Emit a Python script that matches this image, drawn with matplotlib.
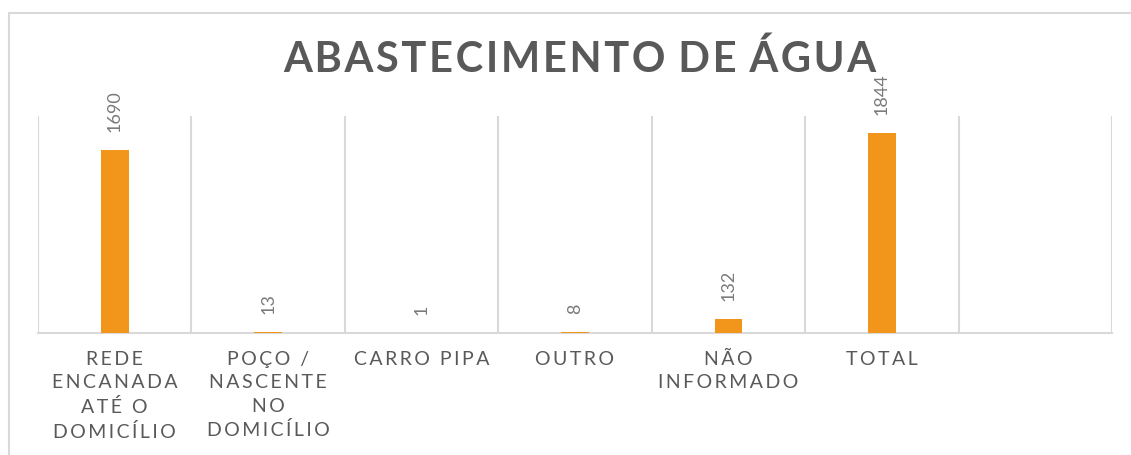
import matplotlib
matplotlib.use("Agg")
import matplotlib.pyplot as plt
import numpy as np
from matplotlib.patches import Rectangle

categories = ["REDE\nENCANADA\nATÉ O\nDOMICÍLIO", "POÇO /\nNASCENTE\nNO\nDOMICÍLIO",
              "CARRO PIPA", "OUTRO", "NÃO\nINFORMADO", "TOTAL", ""]
values = [1690, 13, 1, 8, 132, 1844, None]
title = "ABASTECIMENTO DE ÁGUA"

FAM = ["Lato", "DejaVu Sans"]
plt.rcParams["font.family"] = FAM

def spaced(s, sep, wordsep):
    lines = []
    for line in s.split("\n"):
        words = line.split(" ")
        lines.append(wordsep.join(sep.join(w) for w in words))
    return "\n".join(lines)

fig = plt.figure(figsize=(11.31, 4.55), dpi=100)
ax = fig.add_axes([38/1131, 1-333/455, (1112-38)/1131, (333-116)/455])

x = np.arange(len(categories))
vals = [v if v is not None else 0 for v in values]
bars = ax.bar(x, vals, width=0.18, color="#F1961A", zorder=3)

for xi, v in zip(x, values):
    if v is None:
        continue
    ax.annotate(str(v), (xi, v), xytext=(0, 13), textcoords="offset points",
                rotation=90, ha="center", va="bottom", fontsize=13,
                color="#7a7a7a")

ax.set_xlim(-0.5, len(categories) - 0.5)
ax.set_ylim(0, 2000)
ax.set_yticks([])
ax.set_xticks(x)
ax.set_xticklabels([spaced(c, "\u2009", "\u2009 \u2009") for c in categories], fontsize=14,
                   color="#595959", linespacing=1.45, va="top")
ax.tick_params(axis="x", length=0, pad=13)
ax.set_xticks(np.arange(-0.5, len(categories)), minor=True)
ax.tick_params(axis="x", which="minor", length=0)
ax.grid(True, which="minor", axis="x", color="#d9d9d9", linewidth=1.5, zorder=0)
ax.grid(False, which="major")
for s in ["top", "left", "right"]:
    ax.spines[s].set_visible(False)
ax.spines["bottom"].set_color("#d9d9d9")
ax.spines["bottom"].set_linewidth(1.5)

fig.text(580/1131, 1-59/455, spaced(title, "\u200a", " \u200a"), ha="center", va="center",
         fontsize=30, fontweight="bold", color="#595959", family=FAM)

fig.patches.append(Rectangle((9/1131, -0.1), 1.2, 1.1 - 13/455,
                             transform=fig.transFigure, fill=False,
                             edgecolor="#d9d9d9", linewidth=1.5))

fig.savefig("out.png", dpi=100)
